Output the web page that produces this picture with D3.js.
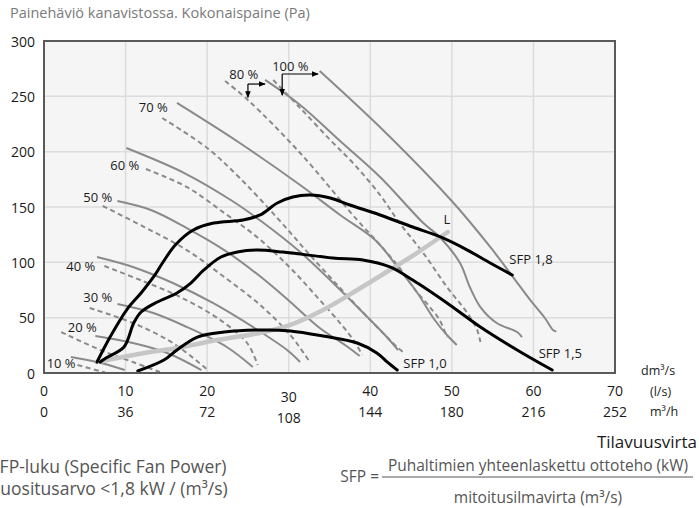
<!DOCTYPE html>
<html>
<head>
<meta charset="utf-8">
<script src="https://cdn.jsdelivr.net/npm/d3@7"></script>
<style>
  body { margin: 0; background: #fff; }
  svg { display: block; }
  text { font-family: "Open Sans", Lato, sans-serif; }
</style>
</head>
<body>
<div id="chart"></div>
<script>
// axis ticks
const flowTicks = [0, 10, 20, 30, 40, 50, 60, 70];       // l/s
const m3hTicks = [0, 36, 72, 108, 144, 180, 216, 252];   // m3/h
const pressureTicks = [0, 50, 100, 150, 200, 250, 300];  // Pa

// fan curves at different speeds, [flow l/s, pressure Pa]
const solid10 = [[3.3, 14.5], [6.5, 9.9], [9.9, 2.7]];
const dashed10 = [[4.1, 7.2], [7.5, 0.5]];
const solid20 = [[6.3, 33.4], [10.9, 27.1], [15.1, 18.1], [19.3, 2.7]];
const dashed20 = [[2.1, 37], [6.9, 20.8], [10.9, 9.9], [14.2, 0.9]];
const solid30 = [[9.0, 62.3], [13.4, 54.2], [17.5, 41.6], [22.4, 23.5], [25.6, 5.4]];
const dashed30 = [[5.6, 58.7], [10.9, 45.2], [15.8, 27.1], [20.1, 2.7]];
const solid40 = [[6.5, 104.8], [10.9, 95.8], [15.8, 81.3], [20.7, 63.3], [25.6, 41.6], [29.8, 20.8], [31.4, 9.9]];
const dashed40 = [[7.4, 96.7], [11.8, 84], [16.7, 68.7], [21.6, 47.9], [24.9, 27.1], [26.2, 7.2]];
const solid50 = [[9.0, 155.4], [13.1, 147.3], [17.5, 131], [22.1, 111.1], [26.6, 86.7], [30.2, 64.2], [33.8, 40.7], [36.9, 25.3], [38.7, 15.4]];
const dashed50 = [[7.2, 150.9], [12.3, 131.9], [17.5, 111.1], [22.1, 86.7], [26.5, 61.4], [30.2, 34.3], [32.0, 16.3], [32.6, 9.9]];
const solid60 = [[10.1, 203.3], [17.2, 180.7], [22.9, 156.3], [26.6, 137.3], [31.4, 109.3], [35.7, 79.5], [39.4, 52.4], [41.8, 34.3], [43.4, 20.8]];
const dashed60 = [[12.5, 184.3], [17.5, 168.1], [22.1, 144.6], [26.1, 122.9], [30.2, 94.9], [33.8, 66], [36.5, 43.4], [38.1, 28], [39.0, 16.3]];
const solid70 = [[16.3, 244], [24.0, 207.8], [31.4, 169.9], [36.3, 142.8], [40.6, 120.2], [43.6, 93.1], [45.7, 73.2], [47.9, 47.9], [49.4, 34.3], [50.6, 25.3]];
const dashed70 = [[14.5, 230.4], [20.0, 203.3], [24.0, 176.2], [28.6, 140.1], [32.6, 106.6], [36.3, 76.8], [39.4, 52.4], [41.8, 34.3], [43.4, 22.6], [44.0, 19]];
const solid80 = [[27.1, 264.8], [31.4, 242.2], [36.3, 209.6], [41.2, 177.1], [46.5, 135.5], [48.5, 122.9], [51.0, 99.4], [52.2, 77.7], [53.5, 59.6], [55.5, 45.2], [58.0, 37], [58.6, 32.5]];
const dashed80 = [[22.2, 263.8], [25.0, 246.7], [31.4, 198.8], [38.4, 138.2], [41.2, 115.7], [43.6, 94.9], [45.5, 75], [47.1, 61.4], [48.5, 47.9], [49.4, 32.5]];
const solid100 = [[33.8, 272.9], [41.8, 217.8], [50.1, 154.5], [54.7, 113.9], [57.5, 86.7], [59.6, 66], [61.4, 49.7], [62.4, 38.9], [62.8, 37.5]];
const dashed100 = [[28.1, 264.8], [31.4, 239.5], [35.1, 210.5], [38.1, 188], [41.2, 160.8], [43.6, 135.5], [46.5, 108.4], [49.4, 77.7], [51.9, 54.2], [53.1, 38.9], [53.5, 28]];

// SFP curves and duct system curve L
const sfp18 = [[6.5, 9.9], [8.1, 32.5], [10.2, 57.8], [12.0, 73.2], [13.6, 88.6], [14.6, 100.3], [16.1, 115.7], [18.3, 129.2], [20.8, 135.5], [24.4, 138.2], [26.5, 142.8], [28.6, 153.6], [30.5, 159], [32.6, 160.8], [35.1, 158.1], [37.5, 151.8], [41.2, 142.8], [45.2, 131.9], [48.6, 122.9], [51.9, 111.1], [54.7, 99.4], [57.4, 88.6]];
const sfp15 = [[6.9, 9.9], [7.6, 13.6], [9.8, 23.5], [11.0, 45.2], [11.9, 55.1], [13.9, 64.2], [16.3, 72.3], [18.0, 81.3], [19.6, 93.1], [21.7, 104.8], [23.7, 109.3], [26.1, 111.1], [29.3, 109.3], [35.4, 103.9], [39.1, 102.1], [42.4, 95.8], [45.2, 84], [49.4, 63.3], [53.5, 41.6], [58.0, 20.8], [62.3, 2.7]];
const sfp10 = [[11.5, 1.8], [14.7, 11.7], [16.3, 20.8], [18.8, 32.5], [22.1, 37], [27.0, 38.9], [30.2, 38], [34.2, 33.4], [38.4, 27.1], [40.8, 18.1], [42.1, 9.9], [43.3, 2.7]];
const systemL = [[6.5, 9.9], [12.3, 18.1], [16.3, 22.6], [21.2, 29.8], [27.0, 37], [30.2, 43.4], [34.2, 56.9], [38.4, 75], [42.4, 93.1], [45.7, 108.4], [49.5, 127.4]];

// label anchors [flow, pressure]
const speedLabels = [
  ['10 %', 2.1, 9.0], ['20 %', 4.7, 41.6], ['30 %', 6.6, 68.7], ['40 %', 4.5, 96.7],
  ['50 %', 6.6, 159], ['60 %', 9.9, 188], ['70 %', 13.4, 240.4], ['80 %', 24.5, 270.2], ['100 %', 30.2, 277.4]
];
const sfpLabels = [['SFP 1,8', 59.7, 103], ['SFP 1,5', 63.3, 18.1], ['SFP 1,0', 46.7, 9], ['L', 49.4, 139.2]];
// arrows from the 80 % and 100 % labels: corner, down end, right end
const arrows = [
  {corner: [25.0, 261.1], down: [25.0, 249.0], right: [27.1, 261.1]},
  {corner: [29.2, 270.2], down: [29.2, 251.0], right: [33.6, 270.2]}
];

const width = 699, height = 508;
const x = d3.scaleLinear().domain([0, 70]).range([44, 615]);
const y = d3.scaleLinear().domain([0, 300]).range([373, 41]);

const svg = d3.select('#chart').append('svg')
  .attr('width', width)
  .attr('height', height)
  .attr('viewBox', [0, 0, width, height]);

svg.append('defs').append('marker')
  .attr('id', 'arrow')
  .attr('viewBox', '0 0 10 10')
  .attr('refX', 9).attr('refY', 5)
  .attr('markerWidth', 7).attr('markerHeight', 7)
  .attr('markerUnits', 'userSpaceOnUse')
  .attr('orient', 'auto')
  .append('path').attr('d', 'M0,1L10,5L0,9Z').attr('fill', '#000');

svg.append('defs').append('clipPath').attr('id', 'plot-clip')
  .append('rect')
  .attr('x', x(0)).attr('y', y(300))
  .attr('width', x(70) - x(0)).attr('height', y(0) - y(300));

// title
svg.append('text')
  .attr('x', 10).attr('y', 18)
  .attr('fill', '#7a7a7a')
  .style('font-size', '14.5px')
  .text('Painehäviö kanavistossa. Kokonaispaine (Pa)');

// plot background
svg.append('rect')
  .attr('x', x(0)).attr('y', y(300))
  .attr('width', x(70) - x(0)).attr('height', y(0) - y(300))
  .attr('fill', '#f5f5f5');

// grid
svg.append('g')
  .attr('stroke', '#dcdcdc')
  .attr('stroke-width', 1.5)
  .call(g => g.selectAll('.vx').data(flowTicks.slice(1, -1)).join('line')
    .attr('x1', d => x(d)).attr('x2', d => x(d))
    .attr('y1', y(0)).attr('y2', y(300)))
  .call(g => g.selectAll('.hy').data(pressureTicks.slice(1, -1)).join('line')
    .attr('x1', x(0)).attr('x2', x(70))
    .attr('y1', d => y(d)).attr('y2', d => y(d)));

const line = d3.line()
  .x(d => x(d[0]))
  .y(d => y(d[1]))
  .curve(d3.curveCatmullRom.alpha(0.5));

const plot = svg.append('g').attr('clip-path', 'url(#plot-clip)');

const solidCurves = [solid10, solid20, solid30, solid40, solid50, solid60, solid70, solid80, solid100];
const dashedCurves = [dashed10, dashed20, dashed30, dashed40, dashed50, dashed60, dashed70, dashed80, dashed100];

plot.append('g')
  .attr('fill', 'none')
  .attr('stroke', '#8a8a8a')
  .attr('stroke-width', 2)
  .attr('stroke-dasharray', '5,3.5')
  .selectAll('path')
  .data(dashedCurves)
  .join('path')
  .attr('d', line);

plot.append('g')
  .attr('fill', 'none')
  .attr('stroke', '#8a8a8a')
  .attr('stroke-width', 2)
  .selectAll('path')
  .data(solidCurves)
  .join('path')
  .attr('d', line);

plot.append('path')
  .attr('fill', 'none')
  .attr('stroke', '#c6c6c6')
  .attr('stroke-width', 4.5)
  .attr('stroke-linecap', 'round')
  .attr('d', line(systemL));

plot.append('g')
  .attr('fill', 'none')
  .attr('stroke', '#000')
  .attr('stroke-width', 3)
  .attr('stroke-linecap', 'round')
  .selectAll('path')
  .data([sfp18, sfp15, sfp10])
  .join('path')
  .attr('d', line);

// frame
svg.append('rect')
  .attr('x', x(0)).attr('y', y(300))
  .attr('width', x(70) - x(0)).attr('height', y(0) - y(300))
  .attr('fill', 'none')
  .attr('stroke', '#5a5a5a')
  .attr('stroke-width', 2);

// labels inside the plot
svg.append('g')
  .style('font-size', '13px')
  .attr('fill', '#1a1a1a')
  .attr('text-anchor', 'middle')
  .attr('dominant-baseline', 'central')
  .selectAll('text')
  .data(speedLabels.concat(sfpLabels))
  .join('text')
  .attr('x', d => x(d[1]))
  .attr('y', d => y(d[2]))
  .text(d => d[0]);

const arrowG = svg.append('g')
  .attr('stroke', '#000')
  .attr('stroke-width', 1.2)
  .attr('fill', 'none');
arrows.forEach(a => {
  arrowG.append('line')
    .attr('x1', x(a.corner[0])).attr('y1', y(a.corner[1]))
    .attr('x2', x(a.down[0])).attr('y2', y(a.down[1]))
    .attr('marker-end', 'url(#arrow)');
  arrowG.append('line')
    .attr('x1', x(a.corner[0])).attr('y1', y(a.corner[1]))
    .attr('x2', x(a.right[0])).attr('y2', y(a.right[1]))
    .attr('marker-end', 'url(#arrow)');
});

// y axis labels
svg.append('g')
  .style('font-size', '14px')
  .attr('fill', '#1a1a1a')
  .attr('text-anchor', 'end')
  .attr('dominant-baseline', 'central')
  .selectAll('text')
  .data(pressureTicks)
  .join('text')
  .attr('x', 35)
  .attr('y', d => y(d))
  .text(d => d);

// x axis labels, two rows
const xAxisG = svg.append('g')
  .style('font-size', '14px')
  .attr('fill', '#1a1a1a')
  .attr('text-anchor', 'middle')
  .attr('dominant-baseline', 'central');
xAxisG.selectAll('.row1').data(flowTicks).join('text')
  .attr('x', d => x(d))
  .attr('y', d => d === 30 ? 396 : 390)
  .text(d => d);
xAxisG.selectAll('.row2').data(m3hTicks).join('text')
  .attr('x', (d, i) => x(flowTicks[i]))
  .attr('y', d => d === 108 ? 417 : 411)
  .text(d => d);

const unitG = svg.append('g')
  .style('font-size', '12.5px')
  .attr('fill', '#1a1a1a')
  .attr('dominant-baseline', 'central');
unitG.append('text').attr('x', 641).attr('y', 370).text('dm³/s');
unitG.append('text').attr('x', 650).attr('y', 391).text('(l/s)');
unitG.append('text').attr('x', 650).attr('y', 411).text('m³/h');

svg.append('text')
  .attr('x', 697).attr('y', 441)
  .attr('text-anchor', 'end')
  .attr('dominant-baseline', 'central')
  .attr('fill', '#1a1a1a')
  .style('font-size', '17px')
  .text('Tilavuusvirta');

// SFP explanation
const noteG = svg.append('g')
  .attr('fill', '#555')
  .attr('dominant-baseline', 'central');
noteG.append('text').attr('x', -10).attr('y', 466).style('font-size', '17.5px').text('SFP-luku (Specific Fan Power)');
noteG.append('text').attr('x', -8).attr('y', 488).style('font-size', '17.5px').text('suositusarvo <1,8 kW / (m³/s)');
noteG.append('text').attr('x', 379).attr('y', 476).attr('text-anchor', 'end').style('font-size', '15.5px').text('SFP =');
noteG.append('text').attr('x', 538).attr('y', 465).attr('text-anchor', 'middle').style('font-size', '15.5px').text('Puhaltimien yhteenlaskettu ottoteho (kW)');
noteG.append('text').attr('x', 538).attr('y', 497).attr('text-anchor', 'middle').style('font-size', '15.5px').text('mitoitusilmavirta (m³/s)');
noteG.append('line')
  .attr('x1', 382).attr('x2', 693)
  .attr('y1', 477).attr('y2', 477)
  .attr('stroke', '#555')
  .attr('stroke-width', 1);
</script>
</body>
</html>
